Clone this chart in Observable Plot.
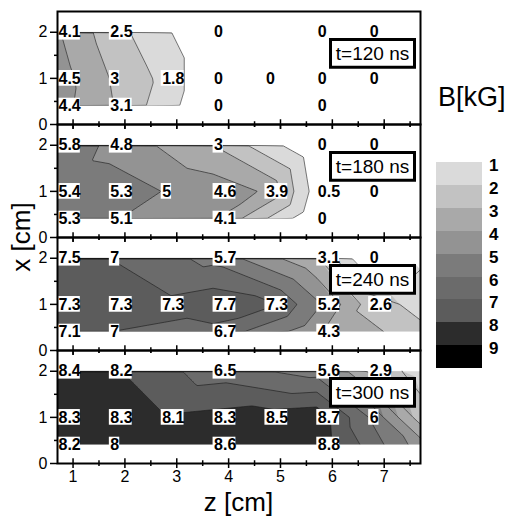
<!DOCTYPE html>
<html><head><meta charset="utf-8">
<script src="https://cdn.jsdelivr.net/npm/d3@7"></script>
<script src="https://cdn.jsdelivr.net/npm/@observablehq/plot@0.6"></script>
<style>
body{margin:0;background:#fff;}
#wrap{position:relative;width:517px;height:517px;overflow:hidden;font-family:"Liberation Sans",Arial,Helvetica,sans-serif;color:#000;}
#wrap svg{position:absolute;left:0;top:0;}
.ov{position:absolute;white-space:nowrap;line-height:1;}
</style></head><body><div id="wrap"></div>
<script>
// ---- data ----
const panels = ["120", "180", "240", "300"];           // t [ns]
const zCols = [0.7, 1.7, 2.7, 3.7, 4.7, 5.7, 6.7];      // measurement columns z [cm]
const zEdge = 7.7;                                      // unlabeled right edge column
const xRows = [2, 1, 0.4];                              // measurement rows x [cm]
// B [kG] per row (top to bottom), null = no value shown
const b120 = [[4.1, 2.5, null, 0, null, 0, 0],
              [4.5, 3, 1.8, 0, 0, 0, 0],
              [4.4, 3.1, null, 0, null, 0, null]];
const b180 = [[5.8, 4.8, null, 3, null, 0, 0],
              [5.4, 5.3, 5, 4.6, 3.9, 0.5, 0],
              [5.3, 5.1, null, 4.1, null, 0, null]];
const b240 = [[7.5, 7, null, 5.7, null, 3.1, 0],
              [7.3, 7.3, 7.3, 7.7, 7.3, 5.2, 2.6],
              [7.1, 7, null, 6.7, null, 4.3, null]];
const b300 = [[8.4, 8.2, null, 6.5, null, 5.6, 2.9],
              [8.3, 8.3, 8.1, 8.3, 8.5, 8.7, 6],
              [8.2, 8, null, 8.6, null, 8.8, null]];
// estimated (unlabeled) values at the right edge z = 7.7, rows top to bottom
const edge120 = [0, 0, 0];
const edge180 = [0, 0, 0];
const edge240 = [0.8, 1.6, 2.3];
const edge300 = [1.5, 2.5, 4.5];
const levels = [1, 2, 3, 4, 5, 6, 7, 8, 9];
const grays = ["#dadada", "#c2c2c2", "#a9a9a9", "#939393", "#7b7b7b", "#6b6b6b", "#5c5c5c", "#2c2c2c", "#000000"];
const zMajor = [1, 2, 3, 4, 5, 6, 7];
const zMinor = [1.5, 2.5, 3.5, 4.5, 5.5, 6.5, 7.5];
const yTop = 2.45;

// ---- build tables ----
const grids = {"120": b120, "180": b180, "240": b240, "300": b300};
const edges = {"120": edge120, "180": edge180, "240": edge240, "300": edge300};
const points = [], labels = [];
panels.forEach(p => {
  grids[p].forEach((row, i) => row.forEach((v, j) => {
    if (v == null) return;
    points.push({panel: p, z: zCols[j], x: xRows[i], v});
    labels.push({panel: p, z: zCols[j], x: xRows[i], text: String(v)});
  }));
  edges[p].forEach((v, i) => points.push({panel: p, z: zEdge, x: xRows[i], v}));
});
const zMin = d3.min(zCols), zMax = zEdge, xMin = d3.min(xRows), xMax = d3.max(xRows);
const W = 517, H = 517, mt = 10, mb = 54, ml = 57, mr = 97;
const panelH = (H - mt - mb) / panels.length;
const topTicksMaj = panels.slice(1).flatMap(p => zMajor.map(z => ({panel: p, z})));
const topTicksMin = panels.slice(1).flatMap(p => zMinor.map(z => ({panel: p, z})));
const font = "Liberation Sans, Arial, Helvetica, sans-serif";

const chart = Plot.plot({
  width: W, height: H, marginLeft: ml, marginRight: mr, marginTop: mt, marginBottom: mb,
  style: {fontFamily: font, fontSize: "16px", background: "transparent", color: "black"},
  x: {domain: [zMin, zMax]},
  y: {domain: [0, yTop]},
  fy: {domain: panels, padding: 0, axis: null},
  color: {type: "ordinal", domain: levels, range: grays},
  marks: [
    Plot.contour(points, {x: "z", y: "x", fy: "panel", fill: "v", interpolate: "barycentric",
      thresholds: levels, x1: zMin, x2: zMax, y1: xMin, y2: xMax, pixelSize: 1, stroke: "none"}),
    Plot.contour(points, {x: "z", y: "x", fy: "panel", value: "v", interpolate: "barycentric",
      thresholds: levels, x1: zMin, x2: zMax, y1: xMin - 0.3, y2: xMax + 0.3, pixelSize: 1,
      fill: "none", stroke: "#1a1a1a", strokeWidth: 0.6}),
    Plot.rect([0], {x1: zMin, x2: zMax, y1: xMax, y2: yTop, fill: "white"}),
    Plot.rect([0], {x1: zMin, x2: zMax, y1: 0, y2: xMin, fill: "white"}),
    Plot.rect(labels, {fy: "panel", x1: "z", x2: d => d.z + (d.text.length === 1 ? 0.2 : 0.44),
      y1: d => d.x - 0.17, y2: d => d.x + 0.17, fill: "white"}),
    Plot.text(labels, {x: "z", y: "x", fy: "panel", text: "text", textAnchor: "start", dx: 1,
      fontWeight: "bold", fontSize: 16, fill: "black"}),
    Plot.frame({insetLeft: 273, insetRight: 6, insetTop: 28, insetBottom: panelH - 56,
      fill: "white", stroke: "black", strokeWidth: 3}),
    Plot.text(panels, {fy: d => d, text: d => `t=${d} ns`, frameAnchor: "top-right",
      dx: -48, dy: 42, textAnchor: "middle", lineAnchor: "middle", fontSize: 19}),
    Plot.ruleX(zMajor, {x: d => d, insetTop: panelH - 5, insetBottom: -5, stroke: "black", strokeWidth: 1.5}),
    Plot.ruleX(zMinor, {x: d => d, insetTop: panelH - 3, insetBottom: -3, stroke: "black", strokeWidth: 1.5}),
    Plot.ruleX(topTicksMaj, {x: "z", fy: "panel", insetBottom: panelH - 5, stroke: "black", strokeWidth: 1.5}),
    Plot.ruleX(topTicksMin, {x: "z", fy: "panel", insetBottom: panelH - 3, stroke: "black", strokeWidth: 1.5}),
    Plot.axisY({ticks: [0, 1, 2], tickFormat: d3.format("d"), tickSize: 7, tickPadding: 3, fontSize: 16, label: null, strokeWidth: 1.5}),
    Plot.axisY({ticks: [0.5, 1.5], tickSize: 3, tickFormat: () => "", label: null, strokeWidth: 1.5}),
    Plot.axisX({ticks: zMajor, tickFormat: d3.format("d"), tickSize: 0, tickPadding: 7, fontSize: 16, label: null}),
    Plot.frame({stroke: "black", strokeWidth: 2})
  ]
});
const wrap = document.getElementById("wrap");
wrap.appendChild(chart);

function ov(text, css) {
  const d = document.createElement("div");
  d.className = "ov";
  d.textContent = text;
  Object.assign(d.style, css);
  wrap.appendChild(d);
  return d;
}
// axis titles
ov("z [cm]", {left: (ml + (W - mr)) / 2 + "px", top: "502px", fontSize: "26px", transform: "translate(-50%,-50%)"});
ov("x [cm]", {left: "21px", top: (mt + (H - mb)) / 2 + "px", fontSize: "26px", transform: "translate(-50%,-50%) rotate(-90deg)"});
// legend
ov("B[kG]", {left: "438px", top: "84px", fontSize: "27px"});
const boxTop = 162, boxH = 22.9;
levels.forEach((lv, i) => {
  const b = document.createElement("div");
  Object.assign(b.style, {position: "absolute", left: "436px", top: (boxTop + i * boxH) + "px",
    width: "46px", height: Math.ceil(boxH) + "px", background: grays[i]});
  wrap.appendChild(b);
  ov(String(lv), {left: "489px", top: (boxTop + i * boxH + 3.5 - 8.5) + "px", fontSize: "17px", fontWeight: "bold"});
});
</script>
</body></html>
